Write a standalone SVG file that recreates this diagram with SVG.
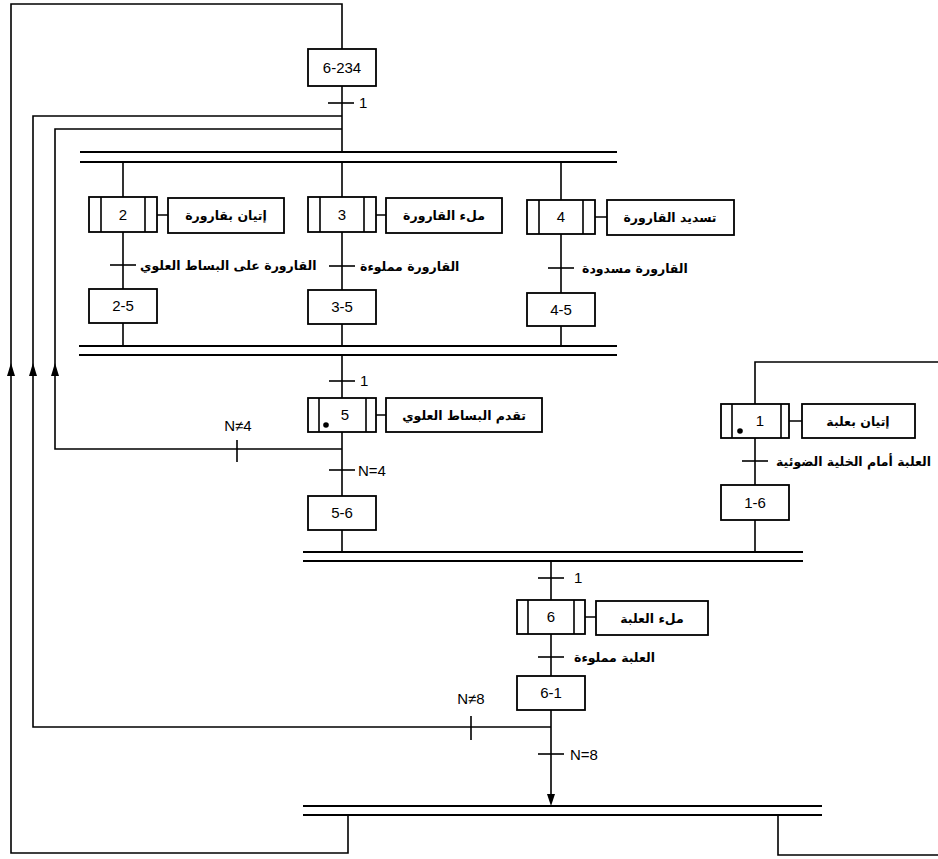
<svg xmlns="http://www.w3.org/2000/svg" width="938" height="859" viewBox="0 0 938 859">
<style>
.ln{fill:none;stroke:#000;stroke-width:1.6}
.bar{fill:none;stroke:#000;stroke-width:2}
.box{fill:#fff;stroke:#000;stroke-width:1.8}
.num{font-family:"Liberation Sans",Arial,sans-serif;font-size:15px;fill:#000}
.ar{font-family:"DejaVu Sans","Noto Sans",sans-serif;font-weight:bold;font-size:12.5px;fill:#000}
.arrow{fill:#000}
</style>
<rect width="938" height="859" fill="#fff"/>
<g id="connectors">
<path class="ln" d="M348,815 V853 H11 V4 H342 V49"/>
<path class="ln" d="M342,86 V152"/>
<path class="ln" d="M328,103 H354"/>
<path class="ln" d="M342,116 H33 V727 H551"/>
<path class="ln" d="M342,129 H55 V449 H342"/>
<path class="bar" d="M80,152 H617 M80,162 H617"/>
<path class="ln" d="M123,162 V197 M123,232 V289 M123,323 V346"/>
<path class="ln" d="M110,265 H136"/>
<path class="ln" d="M342,162 V197 M342,232 V290 M342,324 V346"/>
<path class="ln" d="M329,266 H355"/>
<path class="ln" d="M561,162 V200 M561,234 V293 M561,326 V346"/>
<path class="ln" d="M548,268 H574"/>
<path class="bar" d="M79,346 H617 M79,355 H617"/>
<path class="ln" d="M342,355 V398 M342,432 V496 M342,530 V552"/>
<path class="ln" d="M329,381 H355"/>
<path class="ln" d="M237,440 V462"/>
<path class="ln" d="M329,470 H355"/>
<path class="ln" d="M938,362 H755 V404 M755,438 V485 M755,520 V552"/>
<path class="ln" d="M742,461 H768"/>
<path class="bar" d="M303,552 H803 M303,561 H803"/>
<path class="ln" d="M551,561 V600 M551,634 V676 M551,710 V796"/>
<path class="ln" d="M538,578 H564"/>
<path class="ln" d="M538,657 H564"/>
<path class="ln" d="M471,716 V740"/>
<path class="ln" d="M538,754 H564"/>
<polygon class="arrow" points="551,806 547,794 555,794"/>
<path class="bar" d="M303,806 H822 M303,815 H822"/>
<path class="ln" d="M778,815 V855 H938"/>
<polygon class="arrow" points="11,363 7,376 15,376"/>
<polygon class="arrow" points="33,363 29,376 37,376"/>
<polygon class="arrow" points="55,363 51,376 59,376"/>
<path class="ln" d="M157,215 H168 M376,215 H386 M595,217 H607 M376,415 H386 M789,421 H802 M585,617 H596"/>
<text class="num" x="359" y="108">1</text>
<text class="num" x="360" y="386">1</text>
<text class="num" x="574" y="583">1</text>
<text class="num" x="238" y="431" text-anchor="middle">N≠4</text>
<text class="num" x="358" y="476">N=4</text>
<text class="num" x="471" y="704" text-anchor="middle">N≠8</text>
<text class="num" x="570" y="760">N=8</text>
<text class="ar" x="140" y="270">القارورة على البساط العلوي</text>
<text class="ar" x="360" y="271">القارورة مملوءة</text>
<text class="ar" x="582" y="273">القارورة مسدودة</text>
<text class="ar" x="776" y="466">العلبة أمام الخلية الضوئية</text>
<text class="ar" x="574" y="662">العلبة مملوءة</text>
</g>
<g id="step-6-234"><rect class="box" x="308" y="49" width="68" height="37"/><text class="num" x="342" y="73" text-anchor="middle">6-234</text></g>
<g id="step-2"><rect class="box" x="89" y="197" width="68" height="35"/><path class="ln" d="M101,197 V232 M145,197 V232"/><text class="num" x="123" y="220" text-anchor="middle">2</text></g>
<g id="action-2"><rect class="box" x="168" y="198" width="116" height="35"/><text class="ar" x="226" y="220" text-anchor="middle">إتيان بقارورة</text></g>
<g id="step-2-5"><rect class="box" x="89" y="289" width="68" height="34"/><text class="num" x="123" y="311" text-anchor="middle">2-5</text></g>
<g id="step-3"><rect class="box" x="308" y="197" width="68" height="35"/><path class="ln" d="M320,197 V232 M364,197 V232"/><text class="num" x="342" y="220" text-anchor="middle">3</text></g>
<g id="action-3"><rect class="box" x="386" y="198" width="116" height="35"/><text class="ar" x="444" y="220" text-anchor="middle">ملء القارورة</text></g>
<g id="step-3-5"><rect class="box" x="308" y="290" width="68" height="34"/><text class="num" x="342" y="312" text-anchor="middle">3-5</text></g>
<g id="step-4"><rect class="box" x="527" y="200" width="68" height="34"/><path class="ln" d="M539,200 V234 M583,200 V234"/><text class="num" x="561" y="222" text-anchor="middle">4</text></g>
<g id="action-4"><rect class="box" x="607" y="200" width="127" height="35"/><text class="ar" x="670" y="222" text-anchor="middle">تسديد القارورة</text></g>
<g id="step-4-5"><rect class="box" x="527" y="293" width="68" height="33"/><text class="num" x="561" y="315" text-anchor="middle">4-5</text></g>
<g id="step-5"><rect class="box" x="308" y="398" width="68" height="34"/><path class="ln" d="M319,398 V432 M366,398 V432"/><circle cx="326" cy="425" r="2.8"/><text class="num" x="345" y="420" text-anchor="middle">5</text></g>
<g id="action-5"><rect class="box" x="386" y="398" width="156" height="34"/><text class="ar" x="464" y="420" text-anchor="middle">تقدم البساط العلوي</text></g>
<g id="step-5-6"><rect class="box" x="308" y="496" width="68" height="34"/><text class="num" x="342" y="518" text-anchor="middle">5-6</text></g>
<g id="step-1"><rect class="box" x="721" y="404" width="68" height="34"/><path class="ln" d="M732,404 V438 M781,404 V438"/><circle cx="740" cy="431" r="2.8"/><text class="num" x="760" y="426" text-anchor="middle">1</text></g>
<g id="action-1"><rect class="box" x="802" y="404" width="113" height="34"/><text class="ar" x="858" y="426" text-anchor="middle">إتيان بعلبة</text></g>
<g id="step-1-6"><rect class="box" x="721" y="485" width="68" height="35"/><text class="num" x="755" y="508" text-anchor="middle">1-6</text></g>
<g id="step-6"><rect class="box" x="517" y="600" width="68" height="34"/><path class="ln" d="M528,600 V634 M574,600 V634"/><text class="num" x="551" y="622" text-anchor="middle">6</text></g>
<g id="action-6"><rect class="box" x="596" y="601" width="112" height="34"/><text class="ar" x="652" y="623" text-anchor="middle">ملء العلبة</text></g>
<g id="step-6-1"><rect class="box" x="517" y="676" width="68" height="34"/><text class="num" x="551" y="698" text-anchor="middle">6-1</text></g>
</svg>
